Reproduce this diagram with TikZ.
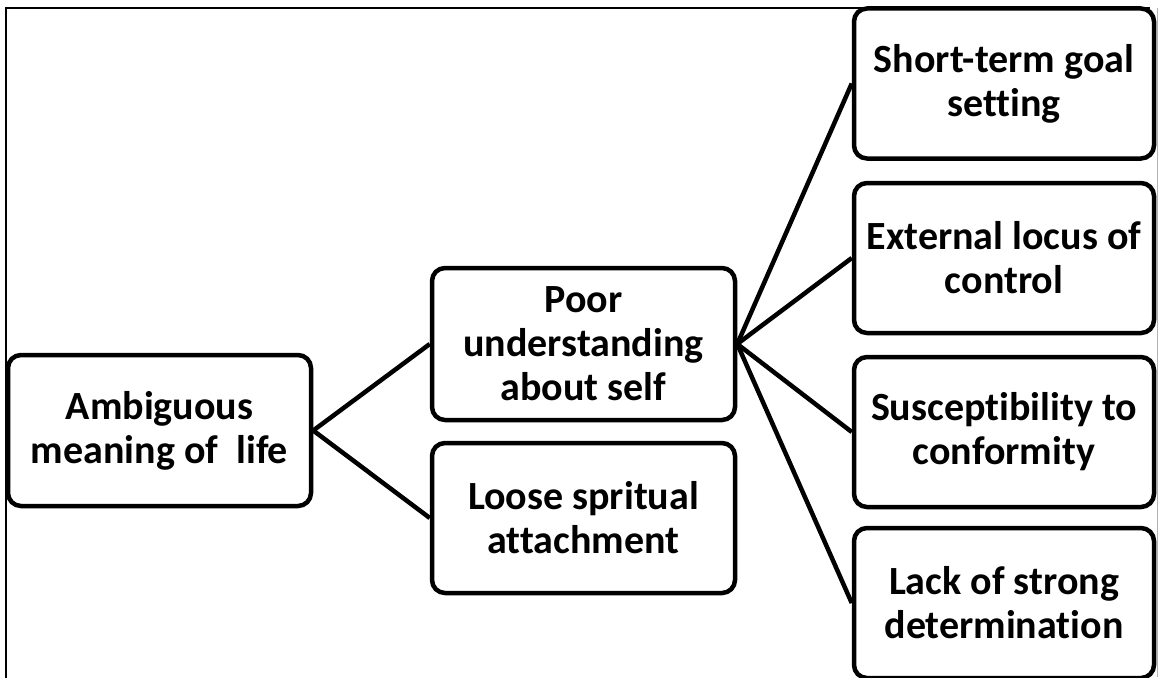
\documentclass[tikz,border=0pt]{standalone}
\usepackage{fontspec}
\setmainfont{Carlito}[Ligatures=NoCommon]
\begin{document}
\begin{tikzpicture}[x=1pt,y=-1pt,
  box/.style={draw=black, line width=4.5pt, rounded corners=13pt, fill=white,
    minimum width=300pt, minimum height=150pt, align=center, inner sep=0pt,
    font=\fontsize{40}{44}\selectfont\bfseries},
  link/.style={draw=black, line width=4.5pt},
  frame/.style={draw=black, line width=2.5pt}]
\useasboundingbox (0,0) rectangle (1158,677);
% outer frame
\draw[frame] (6,690) -- (6,8) -- (1150,8);
\draw[gray!60, line width=1pt] (1157,8) -- (1157,677);
% nodes
\node[box, minimum width=303pt, minimum height=151pt] (amb) at (159.5,430.5) {Ambiguous\\meaning of\ \ life};
\node[box, minimum width=303pt, minimum height=152pt] (poor) at (583.5,344) {Poor\\understanding\\about self};
\node[box, minimum width=303pt] (loose) at (583.5,518) {Loose spritual\\attachment};
\node[box] (short) at (1004,83.5) {Short-term goal\\setting};
\node[box] (ext) at (1004,258) {External locus of\\control};
\node[box] (susc) at (1004,432) {Susceptibility to\\conformity};
\node[box] (lack) at (1004,603) {Lack of strong\\determination};
% connectors
\draw[link] (amb.east) -- (poor.west);
\draw[link] (amb.east) -- (loose.west);
\draw[link] (poor.east) -- (short.west);
\draw[link] (poor.east) -- (ext.west);
\draw[link] (poor.east) -- (susc.west);
\draw[link] (poor.east) -- (lack.west);
\end{tikzpicture}
\end{document}
